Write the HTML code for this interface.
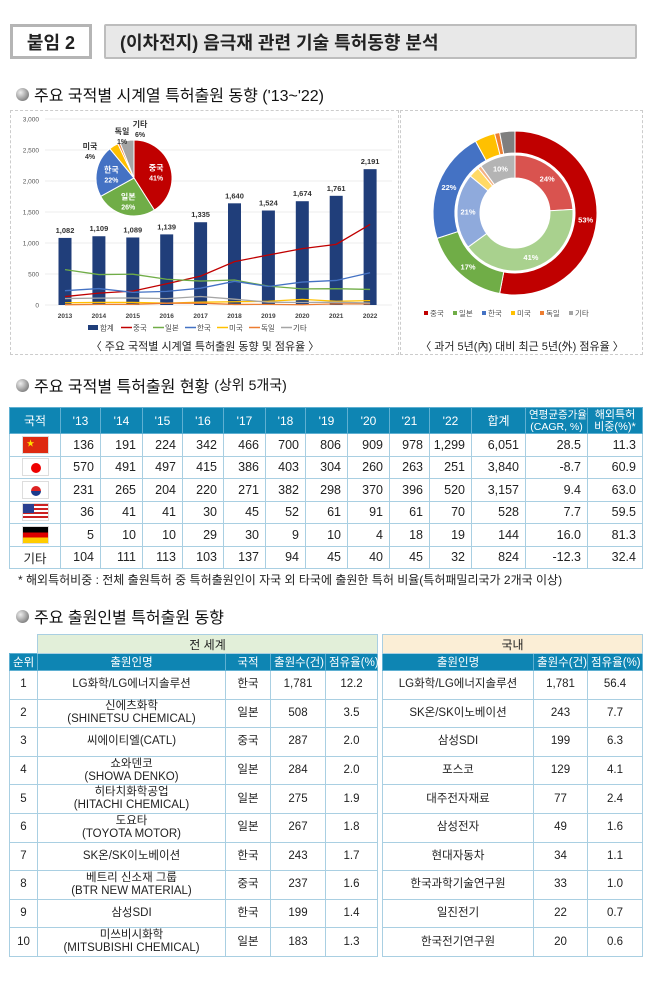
<!DOCTYPE html>
<html><head><meta charset="utf-8">
<style>
*{box-sizing:border-box;margin:0;padding:0}
body{width:650px;height:988px;background:#fff;position:relative;overflow:hidden;font-family:"Liberation Sans","Noto Sans CJK KR",sans-serif;color:#222}
.abs{position:absolute}
.sec{position:absolute;left:16px;font-size:16px;color:#111;display:flex;align-items:center;gap:5px}
.bullet{width:13px;height:13px;border-radius:50%;background:radial-gradient(circle at 35% 35%,#eee,#888 70%,#666);display:inline-block}
table{border-collapse:collapse;table-layout:fixed;position:absolute}
td,th{border:1px solid #a9cfe2;text-align:center;font-weight:normal;padding:0 3px;white-space:nowrap}
.t1 th{background:#0e85b3;color:#fff;font-size:12px;height:26px;border-color:#5fb0d2;line-height:12px}
.t1 td{height:22.5px;font-size:12.5px;text-align:right;padding-right:6px}
.t1 td:first-child{text-align:center;padding:0}
.t2 td,.t2 th{font-size:11.5px}
.t2 th.h{background:#0e85b3;color:#fff;height:16px;border-color:#5fb0d2}
.t2 td{height:28.6px;line-height:13px}
.flag{width:27px;height:18px;display:inline-block;vertical-align:middle;position:relative;overflow:hidden;border:1px solid #ddd}
</style></head><body>

<div class="abs" style="left:10px;top:24px;width:82px;height:35px;border:3px solid #b5b5b5;background:#fff;font-size:18px;font-weight:bold;display:flex;align-items:center;justify-content:center">붙임 2</div>
<div class="abs" style="left:104px;top:24px;width:533px;height:35px;border:2px solid #bdbdbd;border-radius:2px;background:#e8e8e8;font-size:18px;font-weight:bold;display:flex;align-items:center;padding-left:14px">(이차전지) 음극재 관련 기술 특허동향 분석</div>

<div class="sec" style="top:82px"><span class="bullet"></span>주요 국적별 시계열 특허출원 동향 ('13~'22)</div>

<div class="abs" style="left:10px;top:110px;width:389px;height:245px;border:1px dashed #ccc"></div>
<div class="abs" style="left:400px;top:110px;width:243px;height:245px;border:1px dashed #ccc"></div>

<svg class="abs" style="left:0;top:0" width="650" height="360" id="charts"></svg>

<div class="sec" style="top:373px"><span class="bullet"></span>주요 국적별 특허출원 현황 <span style="font-size:14px">(상위 5개국)</span></div>

<table class="t1" style="left:9px;top:407px;width:633px">
<colgroup><col style="width:51px"><col style="width:40px"><col style="width:42px"><col style="width:40px"><col style="width:41px"><col style="width:42px"><col style="width:40px"><col style="width:42px"><col style="width:42px"><col style="width:40px"><col style="width:42px"><col style="width:54px"><col style="width:62px"><col style="width:55px"></colgroup>
<tr><th>국적</th><th>'13</th><th>'14</th><th>'15</th><th>'16</th><th>'17</th><th>'18</th><th>'19</th><th>'20</th><th>'21</th><th>'22</th><th>합계</th><th style="font-size:10.5px">연평균증가율<br>(CAGR, %)</th><th style="font-size:11px">해외특허<br>비중(%)*</th></tr>
<tr><td><span class="flag" style="background:#de2910"><span style="position:absolute;left:4px;top:1px;color:#ffde00;font-size:8px">★</span></span></td><td>136</td><td>191</td><td>224</td><td>342</td><td>466</td><td>700</td><td>806</td><td>909</td><td>978</td><td>1,299</td><td>6,051</td><td>28.5</td><td>11.3</td></tr>
<tr><td><span class="flag" style="background:#fff"><span style="position:absolute;left:8px;top:4px;width:10px;height:10px;border-radius:50%;background:#e00"></span></span></td><td>570</td><td>491</td><td>497</td><td>415</td><td>386</td><td>403</td><td>304</td><td>260</td><td>263</td><td>251</td><td>3,840</td><td>-8.7</td><td>60.9</td></tr>
<tr><td><span class="flag" style="background:#fff"><span style="position:absolute;left:8px;top:4px;width:10px;height:10px;border-radius:50%;background:linear-gradient(#d22 50%,#1a3a8c 50%)"></span></span></td><td>231</td><td>265</td><td>204</td><td>220</td><td>271</td><td>382</td><td>298</td><td>370</td><td>396</td><td>520</td><td>3,157</td><td>9.4</td><td>63.0</td></tr>
<tr><td><span class="flag" style="background:repeating-linear-gradient(#c22 0 2px,#fff 2px 4px)"><span style="position:absolute;left:0;top:0;width:11px;height:9px;background:#2a3f8f"></span></span></td><td>36</td><td>41</td><td>41</td><td>30</td><td>45</td><td>52</td><td>61</td><td>91</td><td>61</td><td>70</td><td>528</td><td>7.7</td><td>59.5</td></tr>
<tr><td><span class="flag" style="background:linear-gradient(#000 33%,#d00 33% 66%,#fc0 66%)"></span></td><td>5</td><td>10</td><td>10</td><td>29</td><td>30</td><td>9</td><td>10</td><td>4</td><td>18</td><td>19</td><td>144</td><td>16.0</td><td>81.3</td></tr>
<tr><td>기타</td><td>104</td><td>111</td><td>113</td><td>103</td><td>137</td><td>94</td><td>45</td><td>40</td><td>45</td><td>32</td><td>824</td><td>-12.3</td><td>32.4</td></tr>
</table>
<div class="abs" style="left:18px;top:571px;font-size:12px;color:#222">* 해외특허비중 : 전체 출원특허 중 특허출원인이 자국 외 타국에 출원한 특허 비율(특허패밀리국가 2개국 이상)</div>

<div class="sec" style="top:604px"><span class="bullet"></span>주요 출원인별 특허출원 동향</div>

<table class="t2" style="left:9px;top:634px;width:368px">
<colgroup><col style="width:28px"><col style="width:188px"><col style="width:45px"><col style="width:55px"><col style="width:52px"></colgroup>
<tr><th style="border:none;background:#fff"></th><th colspan="4" style="background:#e2efd9;height:19px;font-size:12px">전 세계</th></tr>
<tr><th class="h">순위</th><th class="h">출원인명</th><th class="h">국적</th><th class="h">출원수(건)</th><th class="h">점유율(%)</th></tr>
<tr><td>1</td><td>LG화학/LG에너지솔루션</td><td>한국</td><td>1,781</td><td>12.2</td></tr>
<tr><td>2</td><td>신에츠화학<br>(SHINETSU CHEMICAL)</td><td>일본</td><td>508</td><td>3.5</td></tr>
<tr><td>3</td><td>씨에이티엘(CATL)</td><td>중국</td><td>287</td><td>2.0</td></tr>
<tr><td>4</td><td>쇼와덴코<br>(SHOWA DENKO)</td><td>일본</td><td>284</td><td>2.0</td></tr>
<tr><td>5</td><td>히타치화학공업<br>(HITACHI CHEMICAL)</td><td>일본</td><td>275</td><td>1.9</td></tr>
<tr><td>6</td><td>도요타<br>(TOYOTA MOTOR)</td><td>일본</td><td>267</td><td>1.8</td></tr>
<tr><td>7</td><td>SK온/SK이노베이션</td><td>한국</td><td>243</td><td>1.7</td></tr>
<tr><td>8</td><td>베트리 신소재 그룹<br>(BTR NEW MATERIAL)</td><td>중국</td><td>237</td><td>1.6</td></tr>
<tr><td>9</td><td>삼성SDI</td><td>한국</td><td>199</td><td>1.4</td></tr>
<tr><td>10</td><td>미쓰비시화학<br>(MITSUBISHI CHEMICAL)</td><td>일본</td><td>183</td><td>1.3</td></tr>
</table>
<table class="t2" style="left:382px;top:634px;width:260px">
<colgroup><col style="width:151px"><col style="width:54px"><col style="width:55px"></colgroup>
<tr><th colspan="3" style="background:#fbeed6;height:19px;font-size:12px">국내</th></tr>
<tr><th class="h">출원인명</th><th class="h">출원수(건)</th><th class="h">점유율(%)</th></tr>
<tr><td>LG화학/LG에너지솔루션</td><td>1,781</td><td>56.4</td></tr>
<tr><td>SK온/SK이노베이션</td><td>243</td><td>7.7</td></tr>
<tr><td>삼성SDI</td><td>199</td><td>6.3</td></tr>
<tr><td>포스코</td><td>129</td><td>4.1</td></tr>
<tr><td>대주전자재료</td><td>77</td><td>2.4</td></tr>
<tr><td>삼성전자</td><td>49</td><td>1.6</td></tr>
<tr><td>현대자동차</td><td>34</td><td>1.1</td></tr>
<tr><td>한국과학기술연구원</td><td>33</td><td>1.0</td></tr>
<tr><td>일진전기</td><td>22</td><td>0.7</td></tr>
<tr><td>한국전기연구원</td><td>20</td><td>0.6</td></tr>
</table>

<script>
const years = ['2013','2014','2015','2016','2017','2018','2019','2020','2021','2022'];
const totals = [1082,1109,1089,1139,1335,1640,1524,1674,1761,2191];
const china = [136,191,224,342,466,700,806,909,978,1299];
const japan = [570,491,497,415,386,403,304,260,263,251];
const korea = [231,265,204,220,271,382,298,370,396,520];
const usa = [36,41,41,30,45,52,61,91,61,70];
const germany = [5,10,10,29,30,9,10,4,18,19];
const others = [104,111,113,103,137,94,45,40,45,32];
const yTicks = [0,500,1000,1500,2000,2500,3000];
const seriesNames = ['합계','중국','일본','한국','미국','독일','기타'];
const pieLabels = ['중국','일본','한국','미국','독일','기타'];
const pieShares = [41,26,22,4,1,6];
const outerShares = [53,17,22,4,1,3];
const innerShares = [24,41,21,3,1,10];

const NS='http://www.w3.org/2000/svg';
const svg=document.getElementById('charts');
function mk(tag,attrs,parent){const e=document.createElementNS(NS,tag);for(const k in attrs)e.setAttribute(k,attrs[k]);(parent||svg).appendChild(e);return e;}
function txt(x,y,s,attrs){const t=mk('text',Object.assign({x:x,y:y,'font-family':'Liberation Sans, Noto Sans CJK KR, sans-serif'},attrs||{}));t.textContent=s;return t;}
const X0=65,DX=33.9,Y0=305,YH=186,YMAX=3000;
const xs=i=>X0+i*DX;
const ys=v=>Y0-v/YMAX*YH;
const colors=['#203e7a','#c00000','#70ad47','#4472c4','#ffc000','#ed7d31','#a5a5a5'];

yTicks.forEach(v=>{
  const g=mk('line',{x1:45,x2:392,y1:ys(v),y2:ys(v),stroke:'#e6e6e6','stroke-width':0.7});
  
  
  const t=txt(39,ys(v)+2.5,v.toLocaleString('en-US'),{'font-size':6.5,fill:'#555','text-anchor':'end'});
  
  
});
years.forEach((y,i)=>{
  const t=txt(xs(i),318,y,{'font-size':6.5,fill:'#444','text-anchor':'middle','font-weight':'bold'});
  
  
});
totals.forEach((v,i)=>{
  const r=mk('rect',{x:xs(i)-6.5,y:ys(v),width:13,height:Y0-ys(v),fill:colors[0]});
  
  
  const t=txt(xs(i),ys(v)-5,v.toLocaleString('en-US'),{'font-size':7.5,fill:'#333','text-anchor':'middle','font-weight':'bold'});
  
  
});
[china,japan,korea,usa,germany,others].forEach((arr,k)=>{
  const p=mk('polyline',{points:arr.map((v,i)=>xs(i)+','+ys(v)).join(' '),fill:'none',stroke:colors[k+1],'stroke-width':1.3});
  
  
});
// legend
let lx=88;
seriesNames.forEach((n,k)=>{
  if(k===0){const r=mk('rect',{x:lx,y:325,width:10,height:5,fill:colors[0]});}
  else {const l=mk('line',{x1:lx,x2:lx+11,y1:327.5,y2:327.5,stroke:colors[k],'stroke-width':1.5});}
  const t=txt(lx+12,330.5,n,{'font-size':7.5,fill:'#444'});
  
  
  lx+=k===0?33:32;
});
const cap1=txt(205,350,'〈 주요 국적별 시계열 특허출원 동향 및 점유율 〉',{'font-size':11,fill:'#222','text-anchor':'middle'});



function arc(cx,cy,r0,r1,a0,a1){
  const p=(r,a)=>[cx+r*Math.sin(a),cy-r*Math.cos(a)];
  const lg=(a1-a0)>Math.PI?1:0;
  const [x1,y1]=p(r1,a0),[x2,y2]=p(r1,a1);
  if(r0===0)return `M${cx},${cy}L${x1},${y1}A${r1},${r1} 0 ${lg} 1 ${x2},${y2}Z`;
  const [x3,y3]=p(r0,a1),[x4,y4]=p(r0,a0);
  return `M${x1},${y1}A${r1},${r1} 0 ${lg} 1 ${x2},${y2}L${x3},${y3}A${r0},${r0} 0 ${lg} 0 ${x4},${y4}Z`;
}
function ring(cx,cy,r0,r1,vals,cols,labelR,minLabel,name){
  const tot=vals.reduce((a,b)=>a+b,0);let a=0;
  vals.forEach((v,i)=>{
    const a1=a+v/tot*2*Math.PI;
    const p=mk('path',{d:arc(cx,cy,r0,r1,a,a1),fill:cols[i],stroke:'#fff','stroke-width':1});
    
    
    if(v>=minLabel){const m=(a+a1)/2;const t=txt(cx+labelR*Math.sin(m),cy-labelR*Math.cos(m)+3,v+'%',{'font-size':7.5,fill:'#fff','font-weight':'bold','text-anchor':'middle'});
      
      }
    a=a1;
  });
}
// pie
const pc=[134,178];
ring(pc[0],pc[1],0,38,pieShares,colors.slice(1),0,999,'pie');
let pa=0;const ptot=pieShares.reduce((a,b)=>a+b,0);
pieShares.forEach((v,i)=>{
  const a1=pa+v/ptot*2*Math.PI,m=(pa+a1)/2;pa=a1;
  let x,y,fill='#fff';
  if(v>=10){x=pc[0]+23*Math.sin(m);y=pc[1]-23*Math.cos(m);}
  else{fill='#333';const off={3:[-44,-28],4:[-12,-43],5:[6,-50]}[i];x=pc[0]+off[0];y=pc[1]+off[1];}
  const t1=txt(x,y-1,pieLabels[i],{'font-size':8,fill:fill,'font-weight':'bold','text-anchor':'middle'});
  
  
  const t2=txt(x,y+9,v+'%',{'font-size':7,fill:fill,'font-weight':'bold','text-anchor':'middle'});
  
  
});
// donut
const dc=[515,213];
ring(dc[0],dc[1],60,82,outerShares,['#c00000','#70ad47','#4472c4','#ffc000','#ed7d31','#7f7f7f'],71,10,'outer-ring');
ring(dc[0],dc[1],35,58,innerShares,['#d9534f','#a9d18e','#8faadc','#ffd966','#f4b183','#b4b4b4'],47,10,'inner-ring');
let dx=424;
pieLabels.forEach((n,k)=>{
  const r=mk('rect',{x:dx,y:311,width:4,height:4,fill:colors[k+1]});
  
  
  const t=txt(dx+6,316,n,{'font-size':7.5,fill:'#555'});
  
  
  dx+=k===5?0:29;
});
const cap2=txt(522,350,'〈 과거 5년(內) 대비 최근 5년(外) 점유율 〉',{'font-size':11,fill:'#222','text-anchor':'middle'});


</script>
</body></html>
